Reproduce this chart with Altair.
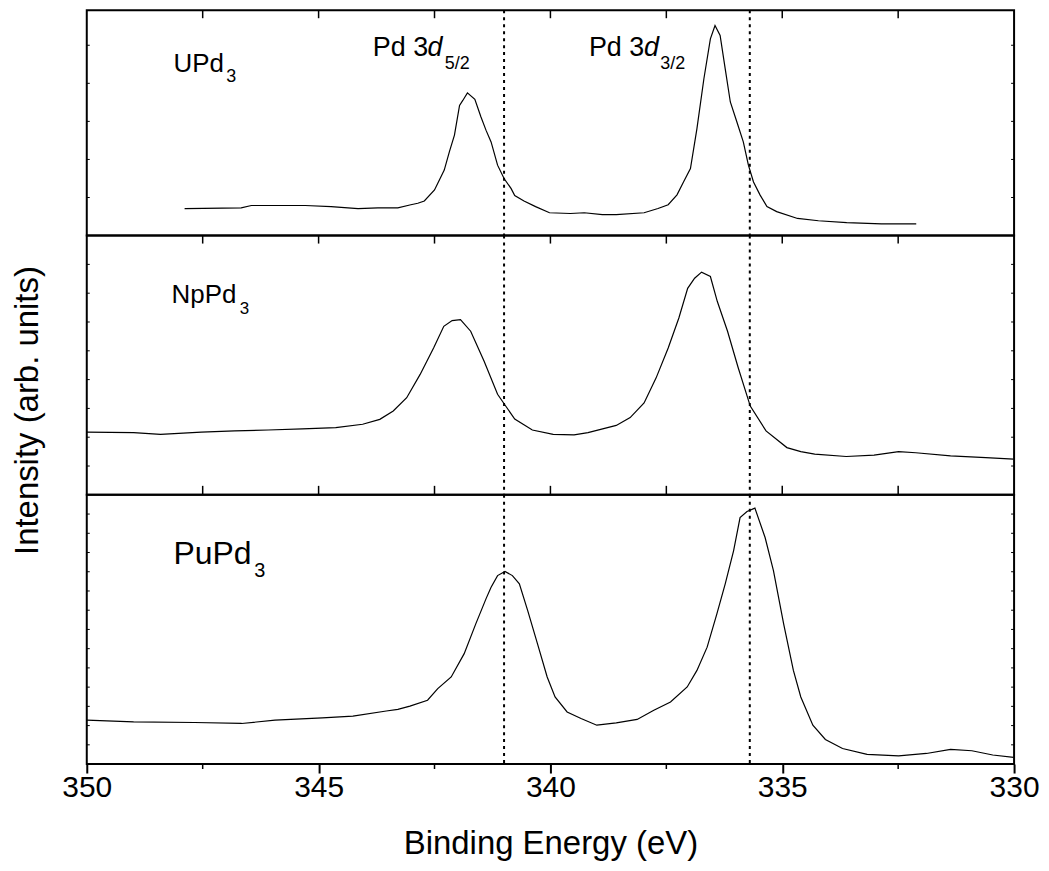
import altair as alt
import pandas as pd

FONT = "Liberation Sans"
W = 930
H_TOP, H_MID, H_BOT = 226, 260, 270

# ---------------- data ----------------
upd3_ev = [347.89, 346.67, 346.45, 345.29, 344.73, 344.15, 343.72, 343.29, 343.01, 342.86,
           342.72, 342.50, 342.29, 342.18, 342.07, 341.96, 341.89, 341.79, 341.63, 341.50,
           341.39, 341.28, 341.14, 341.00, 340.85, 340.77, 340.57, 340.32, 340.02, 339.57,
           339.27, 338.88, 338.58, 337.98, 337.68, 337.46, 337.27, 337.13, 336.98, 336.84,
           336.69, 336.55, 336.45, 336.34, 336.23, 336.12, 335.98, 335.84, 335.73, 335.62,
           335.48, 335.33, 335.12, 334.67, 334.22, 333.61, 332.86, 332.11]
upd3_int = [0.71, 0.73, 0.79, 0.79, 0.76, 0.71, 0.73, 0.73, 0.81, 0.85,
            0.91, 1.20, 1.72, 2.20, 2.64, 3.42, 3.55, 3.75, 3.58, 3.12,
            2.77, 2.46, 1.85, 1.50, 1.24, 1.05, 0.91, 0.76, 0.60, 0.58,
            0.60, 0.55, 0.55, 0.60, 0.71, 0.81, 1.07, 1.41, 1.76, 2.81,
            4.12, 5.17, 5.52, 5.26, 4.38, 3.51, 2.99, 2.46, 1.85, 1.41,
            1.07, 0.76, 0.63, 0.45, 0.39, 0.34, 0.31, 0.31]

nppd3_ev = [350.00, 348.99, 348.41, 347.53, 346.81, 346.09, 345.35, 344.63, 344.05, 343.68,
            343.39, 343.10, 342.81, 342.52, 342.30, 342.12, 341.94, 341.72, 341.43, 341.14,
            340.95, 340.77, 340.39, 339.94, 339.49, 339.19, 338.58, 338.28, 337.98, 337.72,
            337.46, 337.23, 337.04, 336.89, 336.74, 336.55, 336.40, 336.18, 335.95, 335.69,
            335.35, 334.90, 334.60, 334.30, 333.62, 333.02, 332.49, 332.12, 331.37, 330.61,
            330.01]
nppd3_int = [2.18, 2.16, 2.10, 2.18, 2.22, 2.25, 2.29, 2.33, 2.45, 2.62,
             2.91, 3.37, 4.18, 5.10, 5.85, 6.05, 6.08, 5.68, 4.64, 3.49,
             3.05, 2.63, 2.25, 2.10, 2.08, 2.16, 2.41, 2.68, 3.19, 4.06,
             5.10, 6.14, 7.17, 7.52, 7.73, 7.58, 6.71, 5.68, 4.41, 3.08,
             2.22, 1.64, 1.50, 1.41, 1.33, 1.38, 1.50, 1.46, 1.35, 1.29,
             1.24]

pupd3_ev = [350.00, 348.99, 347.68, 346.66, 345.94, 344.92, 344.26, 343.54, 343.29, 343.03,
            342.65, 342.43, 342.14, 341.86, 341.61, 341.39, 341.28, 341.14, 340.98, 340.82,
            340.67, 340.49, 340.28, 340.07, 339.90, 339.64, 339.34, 339.00, 338.58, 338.13,
            337.77, 337.41, 337.05, 336.84, 336.62, 336.41, 336.23, 336.05, 335.91, 335.76,
            335.59, 335.37, 335.19, 334.97, 334.76, 334.60, 334.34, 334.07, 333.70, 333.17,
            332.49, 331.89, 331.37, 330.91, 330.46, 330.01]
pupd3_int = [2.28, 2.19, 2.16, 2.11, 2.28, 2.40, 2.49, 2.76, 2.84, 3.01,
             3.32, 3.92, 4.53, 5.74, 7.29, 8.59, 9.19, 9.80, 10.02, 9.80,
             9.37, 7.98, 6.26, 4.53, 3.49, 2.71, 2.37, 2.02, 2.14, 2.32,
             2.80, 3.23, 4.01, 4.87, 6.08, 7.81, 9.37, 11.09, 12.82, 13.13,
             13.31, 11.78, 10.06, 7.29, 4.87, 3.49, 2.02, 1.28, 0.81, 0.50,
             0.43, 0.55, 0.76, 0.69, 0.47, 0.35]

peak_lines = [341.0, 335.7]
x_major = [350, 345, 340, 335, 330]
x_minor = [347.5, 342.5, 337.5, 332.5]
x_inner_ticks = [347.5, 345, 342.5, 340, 337.5, 335, 332.5]

y_ticks_top = [1, 2, 3, 4, 5]
y_ticks_mid = [1, 2, 3, 4, 5, 6, 7, 8]
y_ticks_bot = [1, 2, 3, 4, 5, 6, 7, 8, 9, 10, 11, 12, 13]

# labels: text, x (eV), y (intensity), font size, italic
top_labels = [("UPd", 348.13, 4.29, 26, False), ("3", 346.99, 4.03, 18, False),
              ("Pd 3", 343.83, 4.71, 27, False), ("d", 342.65, 4.71, 27, True),
              ("5/2", 342.28, 4.38, 18, False),
              ("Pd 3", 339.17, 4.71, 27, False), ("d", 337.98, 4.71, 27, True),
              ("3/2", 337.63, 4.38, 18, False)]
mid_labels = [("NpPd", 348.17, 6.65, 26, False), ("3", 346.70, 6.27, 17, False)]
bot_labels = [("PuPd", 348.13, 10.40, 32, False), ("3", 346.39, 9.75, 20, False)]

# ---------------- helpers ----------------
xscale = alt.Scale(domain=[330, 350], reverse=True, nice=False, zero=False)


def panel(ev, inten, ydom, height, yticks, labels, top_ticks, bottom_ticks,
          bottom_axis=False, ytitle=False):
    yscale = alt.Scale(domain=ydom, nice=False, zero=False)
    df = pd.DataFrame({"e": ev, "i": inten})
    if bottom_axis:
        xenc = alt.X("e:Q", scale=xscale,
                     axis=alt.Axis(values=x_major, title="Binding Energy (eV)",
                                   labelFontSize=30, labelFont=FONT, labelColor="black",
                                   tickSize=9, tickWidth=2, tickColor="black",
                                   domain=False, grid=False, labelPadding=0,
                                   titleFontSize=33, titleFont=FONT, titleFontWeight="normal",
                                   titleColor="black", titlePadding=25,
                                   labelFlush=False))
    else:
        xenc = alt.X("e:Q", scale=xscale, axis=None)
    if ytitle:
        yenc = alt.Y("i:Q", scale=yscale,
                     axis=alt.Axis(title="Intensity (arb. units)", labels=False, ticks=False,
                                   domain=False, grid=False, titleFontSize=33, titleFont=FONT,
                                   titleFontWeight="normal", titleColor="black",
                                   titleAngle=270, titleX=-49, titleY=175,
                                   titleAlign="center", titleBaseline="alphabetic"))
    else:
        yenc = alt.Y("i:Q", scale=yscale, axis=None)

    line = alt.Chart(df).mark_line(color="black", strokeWidth=1.2).encode(
        x=xenc, y=yenc, order="e:Q")

    layers = [line]
    vdf = pd.DataFrame({"e": peak_lines})
    layers.append(alt.Chart(vdf).mark_rule(color="black", strokeWidth=2,
                                           strokeDash=[3, 4]).encode(x=alt.X("e:Q", scale=xscale)))
    tdf = pd.DataFrame({"e": x_inner_ticks})
    if top_ticks:
        layers.append(alt.Chart(tdf).mark_rule(color="black", strokeWidth=1.5).encode(
            x=alt.X("e:Q", scale=xscale), y=alt.value(0), y2=alt.value(8)))
    if bottom_ticks:
        layers.append(alt.Chart(tdf).mark_rule(color="black", strokeWidth=1.5).encode(
            x=alt.X("e:Q", scale=xscale), y=alt.value(height - 9), y2=alt.value(height)))
    if bottom_axis:
        mdf = pd.DataFrame({"e": x_minor})
        layers.append(alt.Chart(mdf).mark_rule(color="black", strokeWidth=1.5).encode(
            x=alt.X("e:Q", scale=xscale), y=alt.value(height), y2=alt.value(height + 5)))
    ydf = pd.DataFrame({"i": yticks})
    layers.append(alt.Chart(ydf).mark_rule(color="black", strokeWidth=1).encode(
        y=alt.Y("i:Q", scale=yscale), x=alt.value(0), x2=alt.value(3)))
    layers.append(alt.Chart(ydf).mark_rule(color="black", strokeWidth=1).encode(
        y=alt.Y("i:Q", scale=yscale), x=alt.value(W - 3), x2=alt.value(W)))
    for txt, xe, yi, fs, ital in labels:
        ldf = pd.DataFrame({"e": [xe], "i": [yi], "t": [txt]})
        layers.append(alt.Chart(ldf).mark_text(
            align="left", baseline="alphabetic", font=FONT, fontSize=fs,
            fontStyle="italic" if ital else "normal", color="black").encode(
            x=alt.X("e:Q", scale=xscale), y=alt.Y("i:Q", scale=yscale), text="t:N"))
    return alt.layer(*layers).properties(width=W, height=height)


top = panel(upd3_ev, upd3_int, [0, 5.92], H_TOP, y_ticks_top, top_labels,
            top_ticks=True, bottom_ticks=False)
mid = panel(nppd3_ev, nppd3_int, [0, 9], H_MID, y_ticks_mid, mid_labels,
            top_ticks=True, bottom_ticks=True, ytitle=True)
bot = panel(pupd3_ev, pupd3_int, [0, 14], H_BOT, y_ticks_bot, bot_labels,
            top_ticks=False, bottom_ticks=False, bottom_axis=True)

chart = alt.vconcat(top, mid, bot, spacing=0, bounds="flush").properties(
    padding={"left": 2, "top": -1, "right": 0, "bottom": 0}
).configure(background="white").configure_view(stroke="black", strokeWidth=2)

chart.save("out.html", embed_options={"renderer": "svg", "actions": False})
